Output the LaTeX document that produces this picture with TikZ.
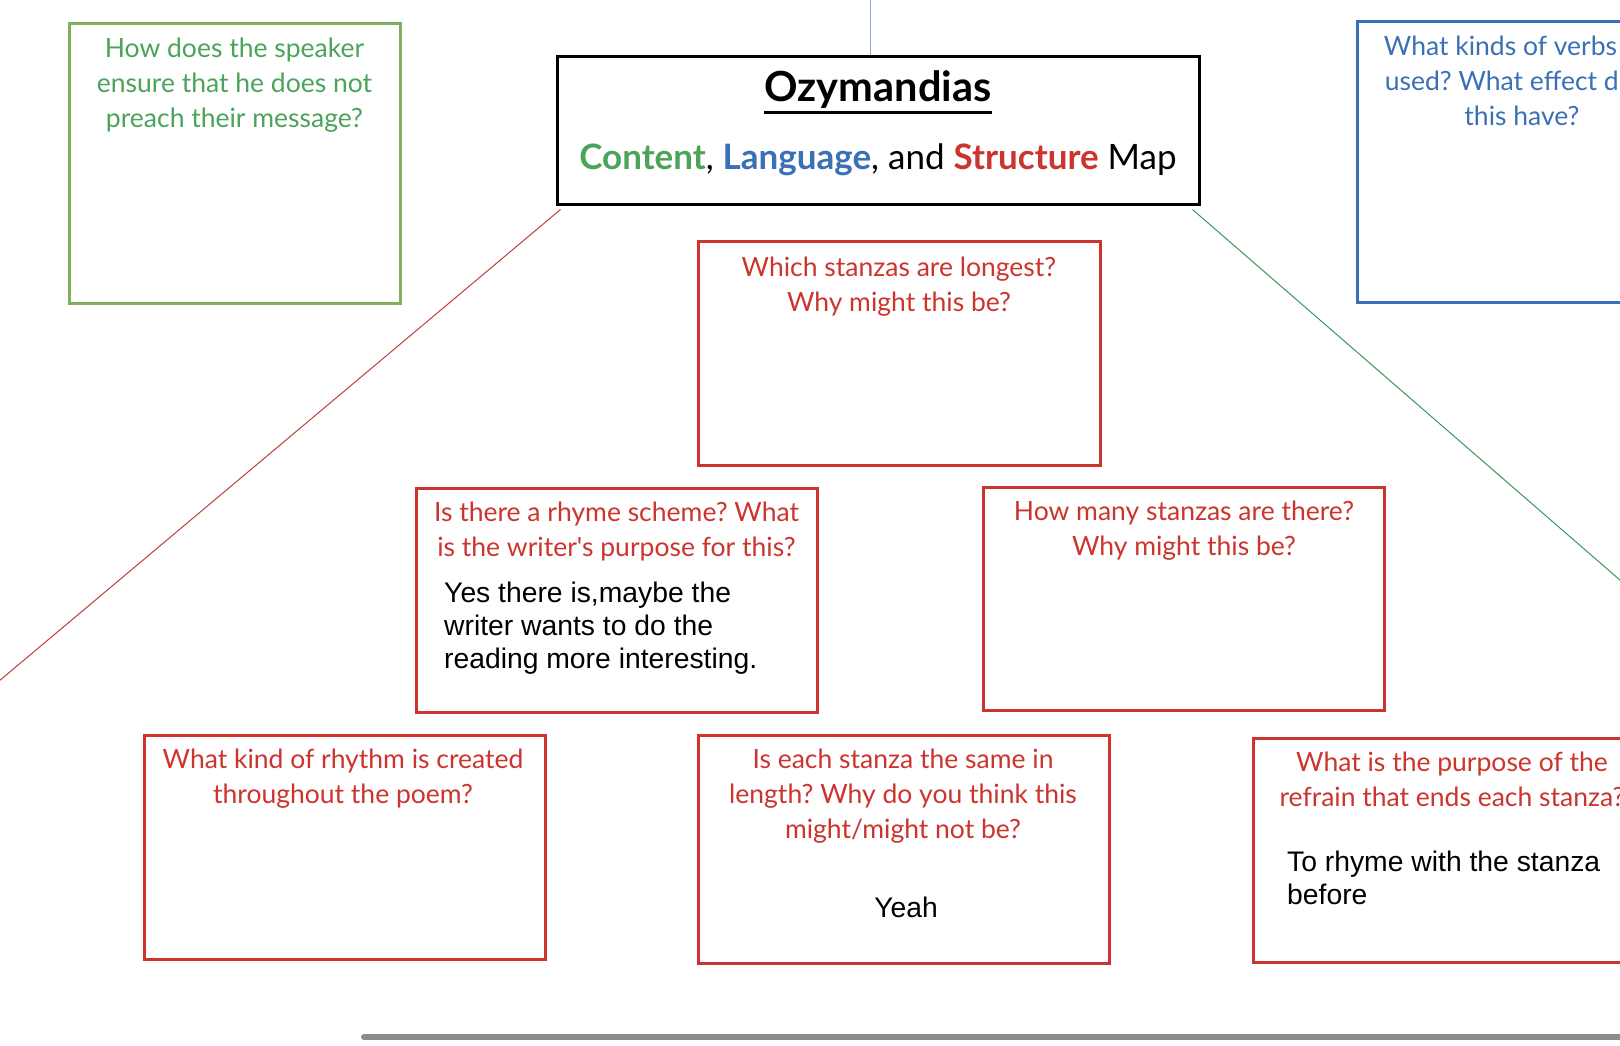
\documentclass[tikz,border=0pt]{standalone}
\usepackage{fontspec}
\setmainfont{Lato}
\newfontfamily\handfont{Lato}
\newfontfamily\ansfont{Liberation Sans}
\frenchspacing
\definecolor{qRed}{RGB}{204,52,46}
\definecolor{cGreen}{RGB}{76,163,90}
\definecolor{boxGreen}{RGB}{126,174,94}
\definecolor{lBlue}{RGB}{58,112,182}
\definecolor{linkBlue}{RGB}{140,170,210}
\definecolor{linkRed}{RGB}{192,62,58}
\definecolor{linkGreen}{RGB}{62,150,92}
\definecolor{barGray}{RGB}{140,140,140}
\begin{document}
\begin{tikzpicture}[x=1pt,y=-1pt,
    qbox/.style={draw=qRed,line width=3pt,inner sep=0pt},
    qtext/.style={text=qRed,font={\handfont\fontsize{26.5}{35}\selectfont},align=center,anchor=north,inner sep=0pt},
    ans/.style={font={\ansfont\fontsize{28.3}{33}\selectfont},align=left,inner sep=0pt}]
                \useasboundingbox[fill=white] (0,0) rectangle (1620,1045);
                \clip (0,0) rectangle (1620,1045);
                % title
                \node[draw,line width=3pt,minimum width=642pt,minimum height=148pt,inner sep=0pt] (titleBox) at (878,130) {};
                \node[inner sep=0pt,font={\handfont\bfseries\fontsize{41.5}{44}\selectfont}] (titleName) at (878,90) {Ozymandias};
                \draw[line width=3pt] ([yshift=-3pt]titleName.south west)--([yshift=-3pt]titleName.south east);
                \node[inner sep=0pt,font={\handfont\fontsize{35}{38}\selectfont}] (mapName) at (878,160)
                    {\textcolor{cGreen}{\bfseries Content}, \textcolor{lBlue}{\bfseries Language}, and \textcolor{qRed}{\bfseries Structure} Map};
                % links
                \coordinate (blueEnd) at (870,-10);
                \coordinate (redEnd) at (-20,697);
                \coordinate (greenEnd) at (1643,600);
                \draw[linkBlue,line width=1pt] ([xshift=-8pt]titleBox.north)--(blueEnd);
                \draw[linkRed,line width=1pt] ([shift={(5pt,-4pt)}]titleBox.south west)--(redEnd);
                \draw[linkGreen,line width=1pt] ([shift={(-8pt,-4pt)}]titleBox.south east)--(greenEnd);
                % corner boxes
                \node[draw=boxGreen,line width=3pt,minimum width=331pt,minimum height=280pt,inner sep=0pt] (speakerBox) at (234.5,163) {};
                \node[qtext,text=cGreen] (speakerText) at (234.5,38) {How does the speaker\\ensure that he does not\\preach their message?};
                \node[draw=lBlue,line width=3pt,minimum width=330pt,minimum height=281pt,inner sep=0pt] (verbBox) at (1522,161.5) {};
                \node[qtext,text=lBlue] (verbText) at (1522,36) {What kinds of verbs are\\used? What effect does\\this have?};
                % structure boxes
                \node[qbox,minimum width=402pt,minimum height=224pt] (stanzaBox) at (899,353) {};
                \node[qtext] (stanzaText) at (899,257) {Which stanzas are longest?\\Why might this be?};
                \node[qbox,minimum width=401pt,minimum height=224pt] (rhymeBox) at (616.5,600) {};
                \node[qtext] (rhymeText) at (616.5,502) {Is there a rhyme scheme? What\\is the writer's purpose for this?};
                \node[ans,anchor=north west] (rhymeAns) at (444,582) {Yes there is,maybe the\\writer wants to do the\\reading more interesting.};
                \node[qbox,minimum width=401pt,minimum height=223pt] (countBox) at (1183.5,598.5) {};
                \node[qtext] (countText) at (1184,501) {How many stanzas are there?\\Why might this be?};
                \node[qbox,minimum width=401pt,minimum height=224pt] (rhythmBox) at (344.5,847) {};
                \node[qtext] (rhythmText) at (343,749) {What kind of rhythm is created\\throughout the poem?};
                \node[qbox,minimum width=411pt,minimum height=228pt] (lengthBox) at (903.5,849) {};
                \node[qtext] (lengthText) at (903,749) {Is each stanza the same in\\length? Why do you think this\\might/might not be?};
                \node[ans] (lengthAns) at (906,907) {Yeah};
                \node[qbox,minimum width=398pt,minimum height=224pt] (refrainBox) at (1452,850) {};
                \node[qtext] (refrainText) at (1452,752) {What is the purpose of the\\refrain that ends each stanza?};
                \node[ans,anchor=north west] (refrainAns) at (1287,851) {To rhyme with the stanza\\before};
                % scroll bar
                \coordinate (barStart) at (364,1037);
                \coordinate (barEnd) at (1650,1037);
                \draw[barGray,line width=6pt,line cap=round] (barStart)--(barEnd);
\end{tikzpicture}
\end{document}
